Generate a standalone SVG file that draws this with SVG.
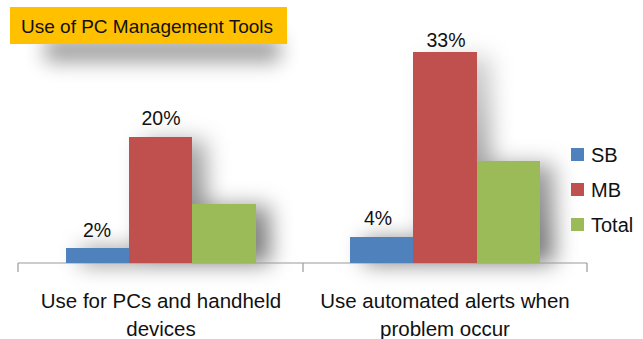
<svg xmlns="http://www.w3.org/2000/svg" width="643" height="339" viewBox="0 0 643 339">
  <style>
    .lbl { font-family: "Liberation Sans", Arial, sans-serif; fill: #111; }
    .cat { font-size: 20.5px; text-anchor: middle; }
    .val { font-size: 19.5px; text-anchor: middle; }
    .leg { font-size: 20px; }
    .sb { fill: #4F81BD; }
    .mb { fill: #C0504D; }
    .tot { fill: #9BBB59; }
    .axis { stroke: #9a9a9a; stroke-width: 1.2; fill: none; }
    .shade { fill: url(#shadeGrad); }
  </style>
  <defs>
    <linearGradient id="shadeGrad" gradientUnits="userSpaceOnUse" x1="0" y1="50" x2="0" y2="263">
      <stop offset="0" stop-color="#000" stop-opacity="0.15"/>
      <stop offset="1" stop-color="#000" stop-opacity="0.55"/>
    </linearGradient>
    <filter id="softShadow" x="-50%" y="-30%" width="200%" height="160%">
      <feGaussianBlur stdDeviation="11"/>
    </filter>
    <filter id="titleShadow" x="-20%" y="-80%" width="140%" height="300%">
      <feGaussianBlur stdDeviation="10"/>
    </filter>
  </defs>
  <rect width="643" height="339" fill="#ffffff"/>

  <!-- soft shadows behind the title bar and the bar groups -->
  <g id="shadows">
    <rect x="45" y="38" width="235" height="24" fill="#000" opacity="0.38" filter="url(#titleShadow)"/>
    <g filter="url(#softShadow)">
      <rect class="shade" x="80" y="250" width="63" height="13"/>
      <rect class="shade" x="143" y="140" width="63" height="123"/>
      <rect class="shade" x="206" y="206" width="64" height="57"/>
      <rect class="shade" x="364" y="240" width="63" height="23"/>
      <rect class="shade" x="427" y="56" width="64" height="207"/>
      <rect class="shade" x="491" y="164" width="63" height="99"/>
    </g>
  </g>

  <!-- title -->
  <g id="title">
    <rect x="10" y="7" width="277" height="37" fill="#FFC000"/>
    <text x="21" y="33" class="lbl" font-size="19">Use of PC Management Tools</text>
  </g>

  <!-- axis -->
  <g id="axis">
    <path class="axis" d="M18 263 H587 M18 263 V272 M303 263 V272 M587 263 V272"/>
  </g>

  <!-- category 1 -->
  <g id="cat1">
    <rect class="sb" x="66" y="248" width="63" height="15"/>
    <rect class="mb" x="129" y="137" width="63" height="126"/>
    <rect class="tot" x="192" y="204" width="64" height="59"/>
    <text class="lbl val" x="97" y="237">2%</text>
    <text class="lbl val" x="161" y="125">20%</text>
    <text class="lbl cat" x="161" y="308">Use for PCs and handheld</text>
    <text class="lbl cat" x="161" y="336">devices</text>
  </g>

  <!-- category 2 -->
  <g id="cat2">
    <rect class="sb" x="350" y="237" width="63" height="26"/>
    <rect class="mb" x="413" y="52" width="64" height="211"/>
    <rect class="tot" x="477" y="161" width="63" height="102"/>
    <text class="lbl val" x="378" y="225">4%</text>
    <text class="lbl val" x="446" y="47">33%</text>
    <text class="lbl cat" x="445" y="308">Use automated alerts when</text>
    <text class="lbl cat" x="445" y="336">problem occur</text>
  </g>

  <!-- legend -->
  <g id="legend">
    <rect class="sb" x="571" y="148" width="13" height="13"/>
    <text class="lbl leg" x="591" y="162">SB</text>
    <rect class="mb" x="571" y="183" width="13" height="13"/>
    <text class="lbl leg" x="591" y="197">MB</text>
    <rect class="tot" x="571" y="218" width="13" height="13"/>
    <text class="lbl leg" x="591" y="232">Total</text>
  </g>
</svg>
